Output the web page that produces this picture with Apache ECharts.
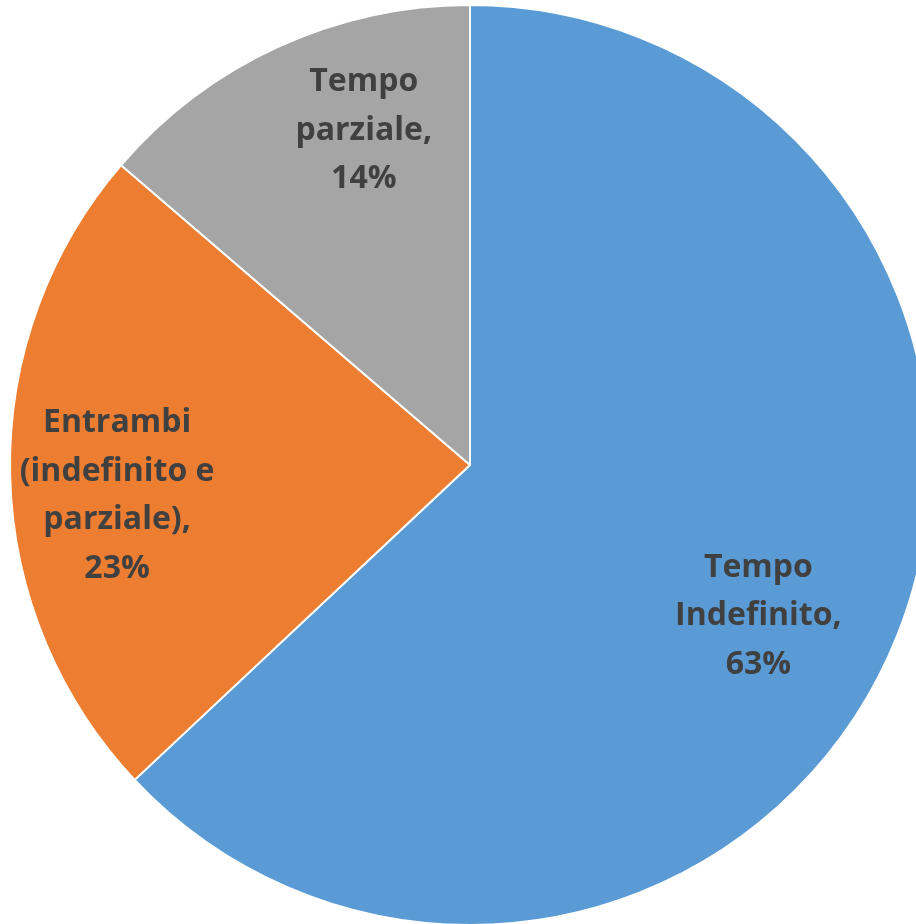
<!DOCTYPE html>
<html>
<head>
<meta charset="utf-8">
<script src="https://cdn.jsdelivr.net/npm/echarts@6/dist/echarts.min.js"></script>
<style>
  html, body { margin: 0; padding: 0; background: #fff; }
  #main { width: 916px; height: 924px; }
</style>
</head>
<body>
<div id="main"></div>
<script>
// dati del grafico
const categories = ['Tempo\nIndefinito', 'Entrambi\n(indefinito e\nparziale)', 'Tempo\nparziale'];
const values = [63, 23.3, 13.7];
const colors = ['#5B9BD5', '#ED7D31', '#A5A5A5'];
// piccoli spostamenti delle etichette (come "adatta" di Excel)
const labelOffsets = [[-31, 13], [-5, 23], [39, -18]];

const chart = echarts.init(document.getElementById('main'));

const option = {
  animation: false,
  series: [
    {
      // torta visibile
      type: 'pie',
      center: [470, 465],
      radius: [0, 460],
      startAngle: 90,
      clockwise: true,
      silent: true,
      data: categories.map((name, i) => ({
        name: name,
        value: values[i],
        itemStyle: { color: colors[i] }
      })),
      itemStyle: { borderColor: '#fff', borderWidth: 2 },
      label: { show: false },
      labelLine: { show: false }
    },
    {
      // anello trasparente solo per posizionare le etichette
      type: 'pie',
      center: [470, 465],
      radius: [230, 460],
      startAngle: 90,
      clockwise: true,
      silent: true,
      data: categories.map((name, i) => ({
        name: name,
        value: values[i],
        label: { offset: labelOffsets[i] }
      })),
      itemStyle: { color: 'rgba(0,0,0,0)' },
      label: {
        show: true,
        position: 'inside',
        formatter: p => p.name + ',\n' + Math.round(p.percent) + '%',
        fontFamily: 'Open Sans',
        fontWeight: 'bold',
        fontSize: 32,
        lineHeight: 48.5,
        color: '#404040',
        align: 'center'
      },
      labelLine: { show: false }
    }
  ]
};

chart.setOption(option);
</script>
</body>
</html>
